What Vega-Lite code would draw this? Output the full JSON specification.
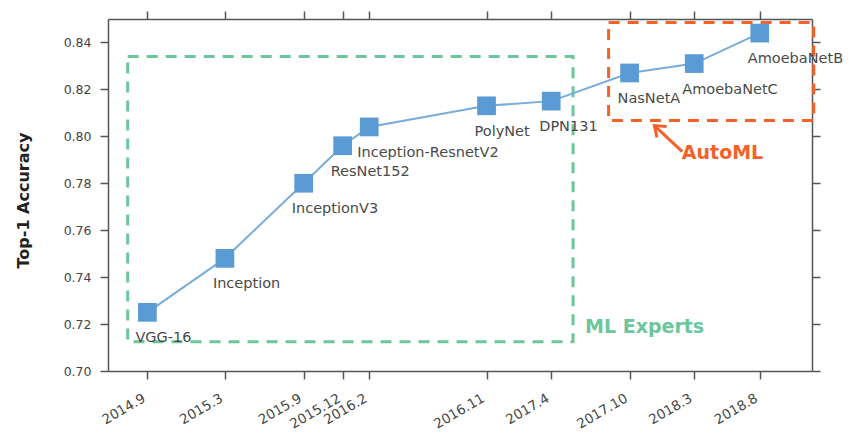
{
  "$schema": "https://vega.github.io/schema/vega-lite/v6.json",
  "width": 704,
  "height": 352,
  "autosize": "none",
  "padding": {"left": 108, "top": 19, "right": 52, "bottom": 75},
  "background": "white",
  "config": {
    "view": {"stroke": null},
    "axis": {
      "grid": false,
      "labelFont": "DejaVu Sans",
      "labelFontSize": 12.5,
      "labelColor": "#444444",
      "tickColor": "#555555",
      "tickWidth": 1.5,
      "tickSize": 8,
      "domainColor": "#555555",
      "domainWidth": 1.5,
      "titleFont": "DejaVu Sans",
      "titleFontWeight": "bold",
      "titleFontSize": 16,
      "titleColor": "#222222"
    }
  },
  "datasets": {
    "models": [
      {"model": "VGG-16", "date": "2014-09-01", "acc": 0.725},
      {"model": "Inception", "date": "2015-03-01", "acc": 0.748},
      {"model": "InceptionV3", "date": "2015-09-01", "acc": 0.78},
      {"model": "ResNet152", "date": "2015-12-01", "acc": 0.796},
      {"model": "Inception-ResnetV2", "date": "2016-02-01", "acc": 0.804},
      {"model": "PolyNet", "date": "2016-11-01", "acc": 0.813},
      {"model": "DPN131", "date": "2017-04-01", "acc": 0.815},
      {"model": "NasNetA", "date": "2017-10-01", "acc": 0.827},
      {"model": "AmoebaNetC", "date": "2018-03-01", "acc": 0.831},
      {"model": "AmoebaNetB", "date": "2018-08-01", "acc": 0.844}
    ],
    "boxes": [
      {"group": "ML Experts", "x1": "2014-07-17", "x2": "2017-05-22", "y1": 0.7125, "y2": 0.834},
      {"group": "AutoML", "x1": "2017-08-13", "x2": "2018-12-05", "y1": 0.8067, "y2": 0.8485}
    ],
    "notes": [
      {"group": "ML Experts", "date": "2017-06-19", "acc": 0.7187},
      {"group": "AutoML", "date": "2018-01-31", "acc": 0.7927}
    ],
    "arrow": [
      {"x1": "2018-02-01", "y1": 0.7935, "x2": "2017-11-28", "y2": 0.8046}
    ]
  },
  "layer": [
    {
      "layer": [
        {
          "data": {"name": "boxes"},
          "mark": {"type": "rect", "fillOpacity": 0, "strokeWidth": 3, "strokeDash": [11, 8]},
          "encoding": {
            "x": {
              "field": "x1", "type": "temporal",
              "scale": {"type": "utc", "domain": [{"year": 2014, "month": 6, "date": 1, "utc": true}, {"year": 2018, "month": 12, "date": 1, "utc": true}]},
              "axis": {
                "title": null,
                "orient": "bottom",
                "values": [
                  {"year": 2014, "month": 9, "date": 1, "utc": true},
                  {"year": 2015, "month": 3, "date": 1, "utc": true},
                  {"year": 2015, "month": 9, "date": 1, "utc": true},
                  {"year": 2015, "month": 12, "date": 1, "utc": true},
                  {"year": 2016, "month": 2, "date": 1, "utc": true},
                  {"year": 2016, "month": 11, "date": 1, "utc": true},
                  {"year": 2017, "month": 4, "date": 1, "utc": true},
                  {"year": 2017, "month": 10, "date": 1, "utc": true},
                  {"year": 2018, "month": 3, "date": 1, "utc": true},
                  {"year": 2018, "month": 8, "date": 1, "utc": true}
                ],
                "labelExpr": "utcFormat(datum.value, '%Y.%-m')",
                "labelFontSize": 13.5,
                "labelAngle": -30,
                "labelAlign": "right",
                "labelBaseline": "top",
                "labelPadding": 12,
                "labelOffset": -7,
                "labelOverlap": false,
                "labelFlush": false
              }
            },
            "x2": {"field": "x2"},
            "y": {
              "field": "y1", "type": "quantitative",
              "scale": {"domain": [0.7, 0.85], "nice": false, "zero": false},
              "axis": {
                "title": "Top-1 Accuracy",
                "orient": "left",
                "values": [0.7, 0.72, 0.74, 0.76, 0.78, 0.8, 0.82, 0.84],
                "format": ".2f",
                "labelPadding": 9,
                "titlePadding": 32,
                "titleY": 181
              }
            },
            "y2": {"field": "y2"},
            "stroke": {"field": "group", "type": "nominal", "scale": {"domain": ["ML Experts", "AutoML"], "range": ["#6cc69b", "#f4622a"]}, "legend": null}
          }
        },
        {
          "data": {"name": "notes"},
          "mark": {"type": "text", "align": "left", "baseline": "middle", "font": "DejaVu Sans", "fontWeight": "bold", "fontSize": 19},
          "encoding": {
            "x": {"field": "date", "type": "temporal"},
            "y": {"field": "acc", "type": "quantitative"},
            "text": {"field": "group"},
            "color": {"field": "group", "type": "nominal", "scale": {"domain": ["ML Experts", "AutoML"], "range": ["#6cc69b", "#f4622a"]}, "legend": null}
          }
        },
        {
          "data": {"name": "arrow"},
          "mark": {"type": "rule", "color": "#f4622a", "strokeWidth": 3},
          "encoding": {
            "x": {"field": "x1", "type": "temporal"},
            "x2": {"field": "x2"},
            "y": {"field": "y1", "type": "quantitative"},
            "y2": {"field": "y2"}
          }
        },
        {
          "data": {"name": "arrow"},
          "mark": {"type": "point", "shape": "M-0.75,1L0,0L0.75,1", "filled": false, "stroke": "#f4622a", "strokeWidth": 3, "size": 380, "angle": 311, "opacity": 1},
          "encoding": {
            "x": {"field": "x2", "type": "temporal"},
            "y": {"field": "y2", "type": "quantitative"}
          }
        },
        {
          "data": {"name": "models"},
          "mark": {"type": "line", "color": "#78acd9", "strokeWidth": 2},
          "encoding": {
            "x": {"field": "date", "type": "temporal"},
            "y": {"field": "acc", "type": "quantitative"}
          }
        },
        {
          "data": {"name": "models"},
          "mark": {"type": "point", "shape": "square", "filled": true, "color": "#5b9bd5", "size": 350, "opacity": 1},
          "encoding": {
            "x": {"field": "date", "type": "temporal"},
            "y": {"field": "acc", "type": "quantitative"}
          }
        },
        {
          "data": {"name": "models"},
          "mark": {"type": "text", "align": "left", "baseline": "middle", "dx": -12, "dy": 26, "font": "DejaVu Sans", "fontSize": 14.5, "color": "#4a4a4a"},
          "encoding": {
            "x": {"field": "date", "type": "temporal"},
            "y": {"field": "acc", "type": "quantitative"},
            "text": {"field": "model"}
          }
        }
      ]
    },
    {
      "data": {"name": "models"},
      "mark": {"type": "point", "opacity": 0},
      "encoding": {
        "x": {
          "field": "date", "type": "temporal",
          "axis": {
            "title": null,
            "orient": "top",
            "labels": false,
            "values": [
              {"year": 2014, "month": 9, "date": 1, "utc": true},
              {"year": 2015, "month": 3, "date": 1, "utc": true},
              {"year": 2015, "month": 9, "date": 1, "utc": true},
              {"year": 2015, "month": 12, "date": 1, "utc": true},
              {"year": 2016, "month": 2, "date": 1, "utc": true},
              {"year": 2016, "month": 11, "date": 1, "utc": true},
              {"year": 2017, "month": 4, "date": 1, "utc": true},
              {"year": 2017, "month": 10, "date": 1, "utc": true},
              {"year": 2018, "month": 3, "date": 1, "utc": true},
              {"year": 2018, "month": 8, "date": 1, "utc": true}
            ]
          }
        },
        "y": {
          "field": "acc", "type": "quantitative",
          "axis": {
            "title": null,
            "orient": "right",
            "labels": false,
            "values": [0.7, 0.72, 0.74, 0.76, 0.78, 0.8, 0.82, 0.84]
          }
        }
      }
    }
  ],
  "resolve": {"axis": {"x": "independent", "y": "independent"}}
}
